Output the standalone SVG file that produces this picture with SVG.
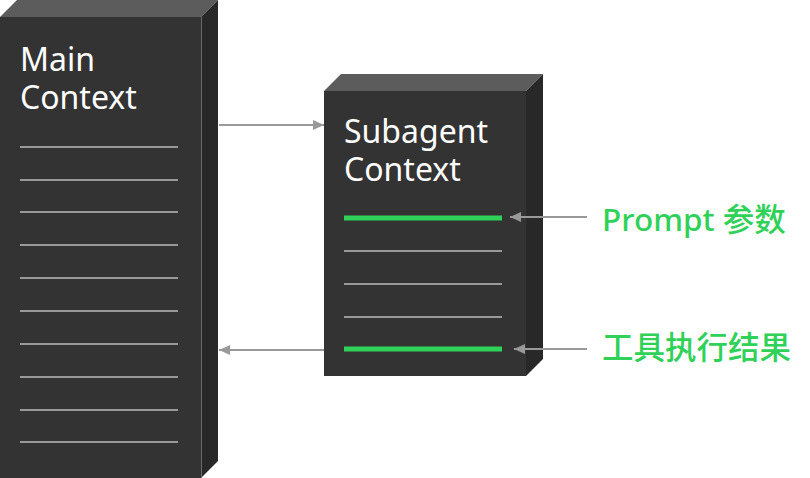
<svg xmlns="http://www.w3.org/2000/svg" width="810" height="478" viewBox="0 0 810 478">
<defs>
<marker id="ah" viewBox="0 0 10 10" refX="10" refY="5" markerWidth="11" markerHeight="10" markerUnits="userSpaceOnUse" orient="auto" preserveAspectRatio="none">
<path d="M0,0 L10,5 L0,10 z" fill="#999999"/>
</marker>
<style>
.front{fill:#333333}
.top{fill:#5c5c5c}
.side{fill:#282828}
.edge{stroke:#6a6a6a;stroke-width:1}
.rule{stroke:#999999;stroke-width:2}
.hl{stroke:#30d158;stroke-width:5}
.title{font-family:"Noto Sans","Open Sans",sans-serif;font-size:32px;fill:#ffffff}
.label{font-family:"Noto Sans","Noto Sans CJK SC",sans-serif;font-size:31.5px;font-weight:500;fill:#30d158}
.conn{stroke:#999999;stroke-width:2;fill:none}
</style>
</defs>
<rect width="810" height="478" fill="#ffffff"/>
<g id="main-context">
<polygon class="top" points="0,17 17,0 218,0 201,17"/>
<polygon class="side" points="201,17 218,0 218,461 201,478"/>
<rect class="front" x="0" y="17" width="201" height="461"/>
<line class="edge" x1="201.5" y1="17" x2="201.5" y2="478"/>
<text class="title"><tspan x="20" y="71">Main</tspan><tspan x="20" y="109">Context</tspan></text>
<line class="rule" x1="20" y1="147" x2="178" y2="147"/>
<line class="rule" x1="20" y1="180" x2="178" y2="180"/>
<line class="rule" x1="20" y1="212" x2="178" y2="212"/>
<line class="rule" x1="20" y1="245" x2="178" y2="245"/>
<line class="rule" x1="20" y1="278" x2="178" y2="278"/>
<line class="rule" x1="20" y1="311" x2="178" y2="311"/>
<line class="rule" x1="20" y1="344" x2="178" y2="344"/>
<line class="rule" x1="20" y1="377" x2="178" y2="377"/>
<line class="rule" x1="20" y1="410" x2="178" y2="410"/>
<line class="rule" x1="20" y1="442" x2="178" y2="442"/>
</g>
<g id="subagent-context">
<polygon class="top" points="324,91 341,74 543,74 526,91"/>
<polygon class="side" points="526,91 543,74 543,359 526,376"/>
<rect class="front" x="324" y="91" width="202" height="285"/>
<text class="title"><tspan x="344" y="143">Subagent</tspan><tspan x="344" y="181">Context</tspan></text>
<line class="hl" x1="344" y1="218" x2="502" y2="218"/>
<line class="rule" x1="344" y1="251" x2="502" y2="251"/>
<line class="rule" x1="344" y1="284" x2="502" y2="284"/>
<line class="rule" x1="344" y1="317" x2="502" y2="317"/>
<line class="hl" x1="344" y1="349" x2="502" y2="349"/>
</g>
<g id="label-prompt">
<text class="label" x="602" y="231">Prompt 参数</text>
</g>
<g id="label-result">
<text class="label" x="602" y="359">工具执行结果</text>
</g>
<g id="connectors">
<line class="conn" x1="219" y1="125" x2="324" y2="125" marker-end="url(#ah)"/>
<line class="conn" x1="324" y1="350" x2="219" y2="350" marker-end="url(#ah)"/>
<line class="conn" x1="587" y1="217" x2="510" y2="217" marker-end="url(#ah)"/>
<line class="conn" x1="587" y1="349" x2="514" y2="349" marker-end="url(#ah)"/>
</g>
</svg>
